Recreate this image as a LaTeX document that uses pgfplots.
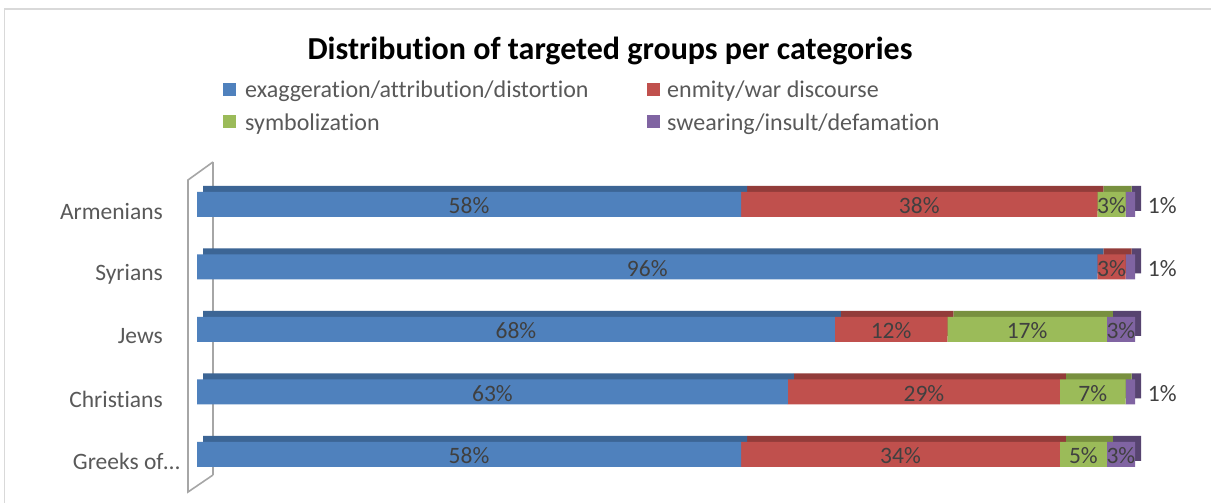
\documentclass[border=0pt]{standalone}
\usepackage{pgfplots}
\pgfplotsset{compat=1.18}
\usepackage{pgfplotstable}
\usepackage{fontspec}
\setmainfont{Carlito}[Ligatures=NoCommon]
\definecolor{cBlue}{HTML}{4F81BD}
\definecolor{cRed}{HTML}{C0504D}
\definecolor{cGreen}{HTML}{9BBB59}
\definecolor{cPurple}{HTML}{8064A2}
\definecolor{dBlue}{HTML}{3C6595}
\definecolor{dRed}{HTML}{923C3A}
\definecolor{dGreen}{HTML}{78903F}
\definecolor{dPurple}{HTML}{574470}
\definecolor{cLab}{HTML}{595959}
\definecolor{cVal}{HTML}{404040}
\definecolor{cWall}{HTML}{A6A6A6}
\definecolor{cBorder}{HTML}{D9D9D9}
\newcommand\fsz{\fontsize{23.5}{28}\selectfont}
\newcommand\lsz{\fontsize{24}{28}\selectfont}

\pgfplotstableread{
y exa enm sym swe
4 58 38 3 1
3 96 3 0 1
2 68 12 17 3
1 63 29 7 1
0 58 34 5 3
}\data

\pgfplotstableread{
x y lab
29 4 58
77 4 38
97.5 4 3
102.9 4 1
48 3 96
97.5 3 3
102.9 3 1
34 2 68
74 2 12
88.5 2 17
98.5 2 3
31.5 1 63
77.5 1 29
95.5 1 7
102.9 1 1
29 0 58
75 0 34
94.5 0 5
98.5 0 3
}\labels

\pgfplotsset{
  base/.style={
    scale only axis, width=938pt, height=312.5pt,
    xmin=0, xmax=100, ymin=-0.5, ymax=4.5,
    axis line style={draw=none}, tick style={draw=none},
    xtick=\empty, clip=false,
  }
}

\begin{document}
\begin{tikzpicture}[x=1pt,y=1pt]
\useasboundingbox (0,0) rectangle (1211,503);
\fill[white] (0,0) rectangle (1211,503);
\draw[cBorder, line width=1.5pt] (4.5,0) -- (4.5,494) -- (1211,494);

% back wall
\draw[cWall, line width=1.6pt] (213,341) -- (213,28);
\draw[cWall, line width=1.6pt] (213,341) -- (188,323) -- (188,11) -- (213,28);

% depth (top/side faces)
\begin{axis}[base, at={(203pt,23.25pt)}, anchor=south west, xbar stacked, bar width=25pt, ytick=\empty]
\addplot[fill=dBlue, draw=none] table[x=exa, y=y] {\data};
\addplot[fill=dRed, draw=none] table[x=enm, y=y] {\data};
\addplot[fill=dGreen, draw=none] table[x=sym, y=y] {\data};
\addplot[fill=dPurple, draw=none] table[x=swe, y=y] {\data};
\end{axis}

% front faces
\begin{axis}[base, at={(197pt,17.25pt)}, anchor=south west, xbar stacked, bar width=25pt,
  ytick={0,1,2,3,4},
  yticklabels={Greeks of…\hspace*{-17pt}, Christians, Jews, Syrians, Armenians},
  yticklabel style={font=\fsz, text=cLab, inner sep=0pt, xshift=-34pt, yshift=-7pt}]
\addplot[fill=cBlue, draw=none] table[x=exa, y=y] {\data};
\addplot[fill=cRed, draw=none] table[x=enm, y=y] {\data};
\addplot[fill=cGreen, draw=none] table[x=sym, y=y] {\data};
\addplot[fill=cPurple, draw=none] table[x=swe, y=y] {\data};
\end{axis}

% value labels
\begin{axis}[base, at={(197pt,17.25pt)}, anchor=south west, ytick=\empty]
\addplot[only marks, mark=none, point meta=explicit symbolic,
  nodes near coords={\pgfplotspointmeta\%},
  nodes near coords style={anchor=center, font=\fsz, text=cVal, yshift=-1.5pt}]
  table[x=x, y=y, meta=lab] {\labels};
\end{axis}

% title
\node[anchor=base, font=\bfseries\fontsize{32}{36}\selectfont] at (610,443)
  {Distribution of targeted groups per categories};

% legend
\fill[cBlue] (223,406.5) rectangle (236,419.5);
\node[anchor=base west, inner sep=0pt, font=\lsz, text=cLab] at (245,405) {exaggeration/attribution/distortion};
\fill[cGreen] (223,375) rectangle (236,388);
\node[anchor=base west, inner sep=0pt, font=\lsz, text=cLab] at (245,372) {symbolization};
\fill[cRed] (647,406.5) rectangle (660,419.5);
\node[anchor=base west, inner sep=0pt, font=\lsz, text=cLab] at (667,405) {enmity/war discourse};
\fill[cPurple] (647,375) rectangle (660,388);
\node[anchor=base west, inner sep=0pt, font=\lsz, text=cLab] at (667,372) {swearing/insult/defamation};
\end{tikzpicture}
\end{document}
